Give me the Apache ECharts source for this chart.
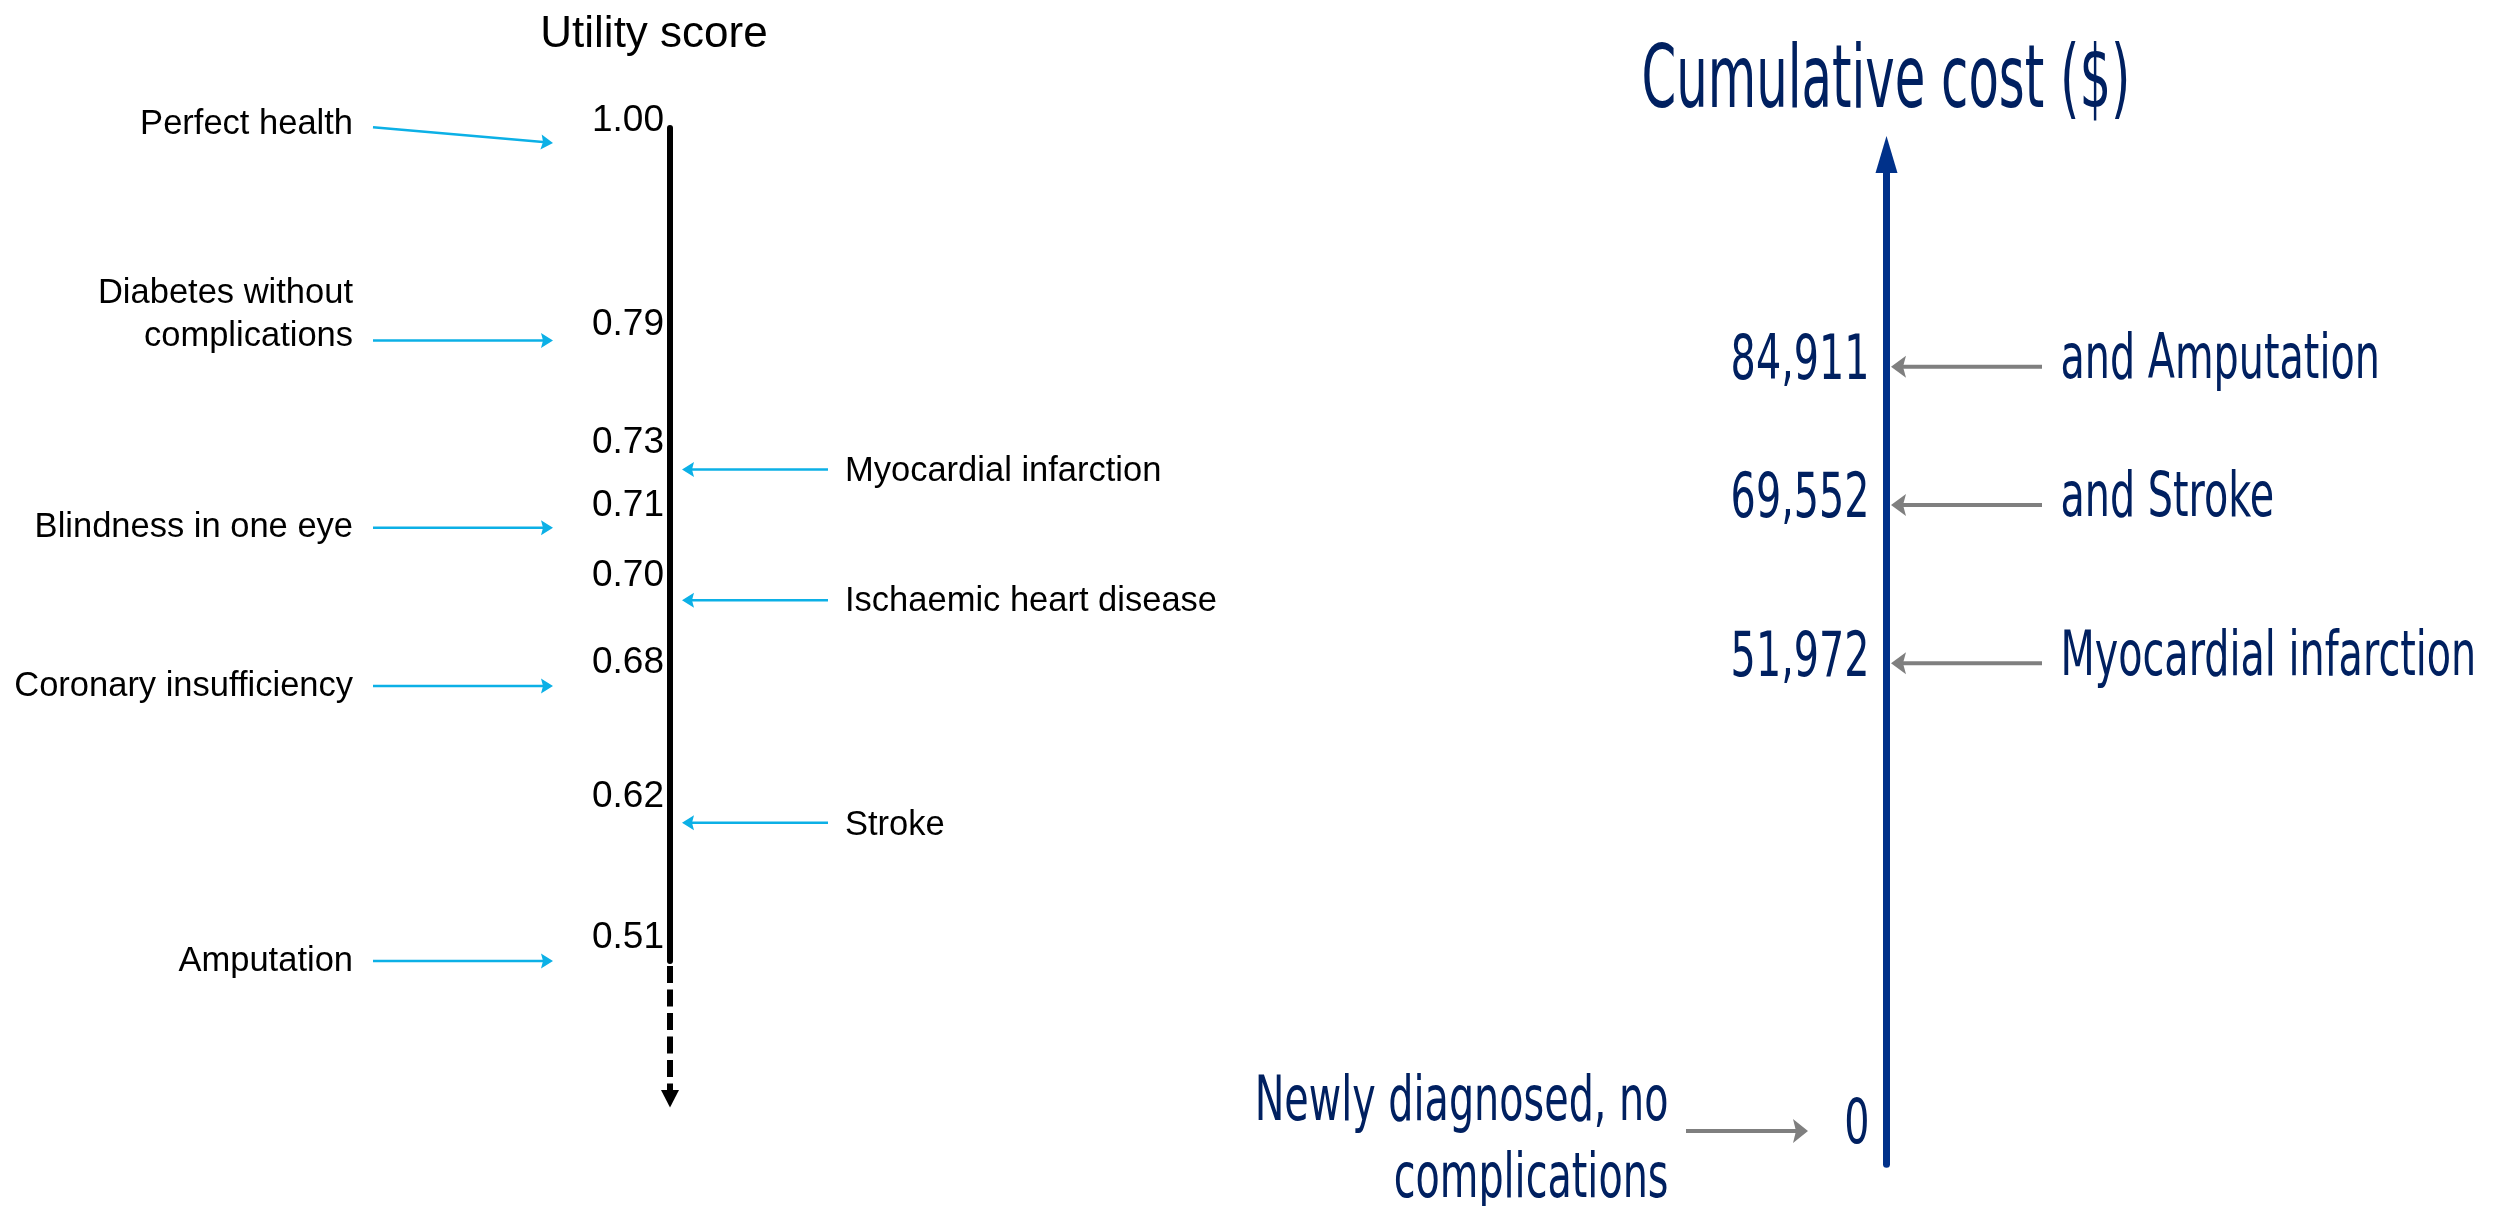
<!DOCTYPE html>
<html>
<head>
<meta charset="utf-8">
<title>Utility score and cumulative cost</title>
<script src="https://cdn.jsdelivr.net/npm/echarts@6/dist/echarts.min.js"></script>
<style>
  html, body { margin: 0; padding: 0; background: #fff; }
  #chart { width: 2513px; height: 1206px; }
</style>
</head>
<body>
<div id="chart"></div>
<script>
// data
var utilityStates = ['Perfect health', 'Diabetes without\ncomplications', 'Myocardial infarction', 'Blindness in one eye',
                     'Ischaemic heart disease', 'Coronary insufficiency', 'Stroke', 'Amputation'];
var utilityScores = [1.00, 0.79, 0.73, 0.71, 0.70, 0.68, 0.62, 0.51];
var utilitySide = ['left', 'left', 'right', 'left', 'right', 'left', 'right', 'left'];

var costEvents = ['Newly diagnosed, no\ncomplications', 'Myocardial infarction', 'and Stroke', 'and Amputation'];
var costValues = [0, 51972, 69552, 84911];
var costSide = ['left', 'right', 'right', 'right'];

// layout: the utility scale is drawn as a schematic, not to scale.
// slot of each state on it, 0 = top of the axis, 100 = the 0.51 mark
var utilityRow = [1.8, 25.5, 41, 48, 56.7, 67, 83.4, 100];
var utilityTailRow = [-0.1, 25.5, 41, 48, 56.7, 67, 83.4, 100];
var utilityLabelRow = [-0.4, 22.5, 41.2, 48, 56.9, 67, 83.7, 100];
var utilityScoreRow = [-0.9, 23.6, 37.8, 45.3, 53.8, 64.2, 80.3, 97.2];

var NAVY = '#002060', AXIS_BLUE = '#00318A', GREY = '#7F7F7F', CYAN = '#0CB0E6';
var ARIAL = '"Liberation Sans", Arial, sans-serif';
var TAHOMA = '"DejaVu Sans", Verdana, sans-serif';
var SQUEEZE = 0.63;   // the cost side uses a horizontally squeezed font

function fmt(v) {
    return String(v).replace(/\B(?=(\d{3})+(?!\d))/g, ',');
}

// line + arrow head, tip at p2
function arrow(p1, p2, color, width, headLen, headW, notch) {
    var dx = p2[0] - p1[0], dy = p2[1] - p1[1];
    var len = Math.sqrt(dx * dx + dy * dy);
    var ux = dx / len, uy = dy / len, nx = -uy, ny = ux;
    var bx = p2[0] - ux * headLen, by = p2[1] - uy * headLen;
    return [
        { type: 'line', shape: { x1: p1[0], y1: p1[1], x2: bx + ux * notch, y2: by + uy * notch },
          style: { stroke: color, lineWidth: width } },
        { type: 'polygon', shape: { points: [
            [p2[0], p2[1]],
            [bx + nx * headW / 2, by + ny * headW / 2],
            [bx + ux * notch, by + uy * notch],
            [bx - nx * headW / 2, by - ny * headW / 2]] },
          style: { fill: color } }
    ];
}

function renderUtility(params, api) {
    var i = params.dataIndex;
    var left = utilitySide[i] === 'left';
    var tip = api.coord([left ? -117 : 12, utilityRow[i]]);
    var tail = api.coord([left ? -297 : 158, utilityTailRow[i]]);
    var lab = api.coord([left ? -317 : 175, utilityLabelRow[i]]);
    var tick = api.coord([-6, utilityScoreRow[i]]);
    var children = arrow(tail, tip, CYAN, 2.5, 12, 15, 2);
    children.push({
        type: 'text', x: lab[0], y: lab[1],
        style: { text: utilityStates[i], font: '34.5px ' + ARIAL, fill: '#000',
                 align: left ? 'right' : 'left', verticalAlign: 'middle', lineHeight: 43 }
    });
    // score written just above its slot, left of the axis
    children.push({
        type: 'text', x: tick[0], y: tick[1],
        style: { text: utilityScores[i].toFixed(2), font: '37px ' + ARIAL, fill: '#000',
                 align: 'right', verticalAlign: 'middle' }
    });
    return { type: 'group', children: children };
}

// dashed continuation of the utility axis below 0.51
function renderAxisTail(params, api) {
    var top = api.coord([0, 100]);
    var base = api.coord([0, 115.5]);
    var tip = api.coord([0, 117.6]);
    return { type: 'group', children: [
        { type: 'line', shape: { x1: top[0], y1: top[1] + 5, x2: base[0], y2: base[1] },
          style: { stroke: '#000', lineWidth: 6, lineDash: [17, 6.5] } },
        { type: 'polygon', shape: { points: [[tip[0], tip[1]], [base[0] + 9, base[1]], [base[0] - 9, base[1]]] },
          style: { fill: '#000' } }
    ]};
}

function renderCost(params, api) {
    var i = params.dataIndex;
    var v = costValues[i];
    var children;
    if (costSide[i] === 'right') {
        children = arrow(api.coord([155.5, v]), api.coord([4.5, v]), GREY, 4, 15, 22, 3);
        var lab = api.coord([174, v]);
        children.push({
            type: 'text', x: lab[0], y: lab[1] - 5, scaleX: SQUEEZE,
            style: { text: costEvents[i], font: '63px ' + TAHOMA, fill: NAVY, align: 'left', verticalAlign: 'middle' }
        });
    } else {
        children = arrow(api.coord([-200.5, v]), api.coord([-78.5, v]), GREY, 4, 15, 24, 3);
        var lab2 = api.coord([-218, v]);
        children.push({
            type: 'text', x: lab2[0], y: lab2[1] + 11, scaleX: SQUEEZE,
            style: { text: costEvents[i], font: '63px ' + TAHOMA, fill: NAVY, align: 'right',
                     verticalAlign: 'middle', lineHeight: 77 }
        });
    }
    var num = api.coord([-17, v]);
    children.push({
        type: 'text', x: num[0], y: num[1] - 4, scaleX: SQUEEZE,
        style: { text: fmt(v), font: '63px ' + TAHOMA, fill: NAVY, align: 'right', verticalAlign: 'middle' }
    });
    return { type: 'group', children: children };
}

var myChart = echarts.init(document.getElementById('chart'));

var option = {
    animation: false,
    backgroundColor: '#fff',
    grid: [
        { left: 0, top: 128, width: 1300, height: 833, outerBoundsMode: 'none', containLabel: false },
        { left: 1350, top: 154.5, width: 1163, height: 1009.8, outerBoundsMode: 'none', containLabel: false }
    ],
    xAxis: [
        { gridIndex: 0, type: 'value', min: -670, max: 630, show: false, axisLine: { onZero: false } },
        { gridIndex: 1, type: 'value', min: -536.5, max: 626.5, show: false, axisLine: { onZero: false } }
    ],
    yAxis: [
        {
            gridIndex: 0, type: 'value', inverse: true, min: 0, max: 100,
            axisLine: { show: true, onZero: true, lineStyle: { color: '#000', width: 6 } },
            axisTick: { show: false },
            splitLine: { show: false },
            axisLabel: { show: false }
        },
        {
            gridIndex: 1, type: 'value', min: -3700, max: 108500,
            axisLine: { show: true, onZero: true, symbol: ['none', 'triangle'], symbolSize: [22, 37],
                        lineStyle: { color: AXIS_BLUE, width: 7 } },
            axisTick: { show: false },
            splitLine: { show: false },
            axisLabel: { show: false }
        }
    ],
    graphic: [
        { type: 'text', x: 654, y: 35,
          style: { text: 'Utility score', font: '44px ' + ARIAL, fill: '#000', align: 'center', verticalAlign: 'middle' } },
        { type: 'text', x: 1886, y: 84, scaleX: 0.565,
          style: { text: 'Cumulative cost ($)', font: '88px ' + TAHOMA, fill: NAVY, align: 'center', verticalAlign: 'middle' } }
    ],
    series: [
        {
            type: 'custom', xAxisIndex: 0, yAxisIndex: 0, silent: true,
            renderItem: renderUtility,
            data: utilityRow.map(function (r) { return [0, r]; })
        },
        {
            type: 'custom', xAxisIndex: 0, yAxisIndex: 0, silent: true,
            renderItem: renderAxisTail,
            data: [[0, 100]]
        },
        {
            type: 'custom', xAxisIndex: 1, yAxisIndex: 1, silent: true,
            renderItem: renderCost,
            data: costValues.map(function (v) { return [0, v]; })
        }
    ]
};

myChart.setOption(option);
</script>
</body>
</html>
